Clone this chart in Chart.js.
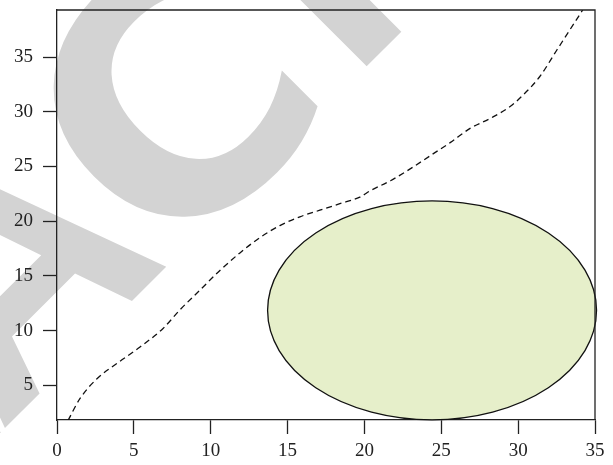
<!DOCTYPE html>
<html>
<head>
<meta charset="utf-8">
<script src="https://cdn.jsdelivr.net/npm/chart.js"></script>
<style>
  html, body { margin: 0; padding: 0; background: #fff; }
  #wrap { width: 613px; height: 465px; }
</style>
</head>
<body>
<div id="wrap"><canvas id="chart" width="613" height="465"></canvas></div>
<script>
// tick values
const xTicks = [0, 5, 10, 15, 20, 25, 30, 35];
const yTicks = [5, 10, 15, 20, 25, 30, 35];

// dashed curve
const curveX = [0.72, 1.5, 2.6, 3.9, 5.4, 6.9, 8.0, 9.3, 10.6, 11.9, 13.2, 14.5, 15.8, 17.1, 18.4, 19.7, 20.4, 21.7, 23.0, 24.3, 25.6, 26.9, 28.2, 29.5, 30.3, 31.4, 32.5, 34.2];
const curveY = [1.8, 3.8, 5.6, 7.0, 8.5, 10.2, 11.9, 13.7, 15.5, 17.1, 18.5, 19.6, 20.4, 21.0, 21.6, 22.2, 22.8, 23.7, 24.8, 26.0, 27.2, 28.5, 29.4, 30.5, 31.5, 33.2, 35.6, 39.3];

// ellipse in data units
const ellipseCenter = [24.4, 11.85];
const ellipseRadius = [10.7, 10.0];

const axisRange = { xMin: 0, xMax: 35, yMin: 1.83, yMax: 39.3 };

const axisColor = '#222';
const tickFont = { family: '"Liberation Serif", "DejaVu Serif", serif', size: 19 };

// grey "RETRACTED" watermark behind everything
const watermark = {
  id: 'watermark',
  beforeDraw(chart) {
    const ctx = chart.ctx;
    const face = '"Liberation Sans", Arial, sans-serif';
    ctx.save();
    ctx.fillStyle = '#d3d3d3';
    ctx.font = 'bold 340px ' + face;
    ctx.textBaseline = 'alphabetic';
    ctx.translate(145, 288);
    ctx.rotate(-Math.PI / 4);
    ctx.textAlign = 'right';
    ctx.fillText('A', 39, 0);
    const wA = ctx.measureText('A').width;
    ctx.fillText('RETR', 39 - wA + 10, 0);
    ctx.textAlign = 'center';
    ctx.fillText('T', 338, 0);
    ctx.textAlign = 'left';
    ctx.fillText('ED', 338 + ctx.measureText('T').width / 2, 0);
    // the C in the reference is more open, DejaVu's is closer
    ctx.font = 'bold 335px "DejaVu Sans", sans-serif';
    ctx.textAlign = 'center';
    ctx.fillText('C', 149, 7);
    ctx.restore();
  }
};

const ellipsePlugin = {
  id: 'ellipse',
  beforeDatasetsDraw(chart) {
    const { ctx, scales: { x, y } } = chart;
    const cx = x.getPixelForValue(ellipseCenter[0]);
    const cy = y.getPixelForValue(ellipseCenter[1]);
    const rx = Math.abs(x.getPixelForValue(ellipseCenter[0] + ellipseRadius[0]) - cx);
    const ry = Math.abs(y.getPixelForValue(ellipseCenter[1] + ellipseRadius[1]) - cy);
    ctx.save();
    ctx.beginPath();
    ctx.ellipse(cx, cy, rx, ry, 0, 0, Math.PI * 2);
    ctx.fillStyle = '#e6efca';
    ctx.fill();
    ctx.lineWidth = 1.3;
    ctx.strokeStyle = '#111';
    ctx.stroke();
    ctx.restore();
  }
};

// top and right sides of the box
const boxPlugin = {
  id: 'box',
  afterDraw(chart) {
    const { ctx, chartArea: a } = chart;
    ctx.save();
    ctx.strokeStyle = axisColor;
    ctx.lineWidth = 1.3;
    ctx.beginPath();
    ctx.moveTo(a.left, a.top);
    ctx.lineTo(a.right, a.top);
    ctx.lineTo(a.right, a.bottom);
    ctx.stroke();
    ctx.restore();
  }
};

new Chart(document.getElementById('chart'), {
  type: 'line',
  data: {
    datasets: [{
      data: curveX.map((v, i) => ({ x: v, y: curveY[i] })),
      borderColor: '#111',
      borderWidth: 1.3,
      borderDash: [6, 4],
      pointRadius: 0,
      cubicInterpolationMode: 'monotone',
      fill: false
    }]
  },
  options: {
    responsive: false,
    animation: false,
    devicePixelRatio: 1,
    layout: { padding: { top: 10, right: 18, left: 0, bottom: 0 } },
    plugins: { legend: { display: false }, tooltip: { enabled: false } },
    scales: {
      x: {
        type: 'linear',
        min: axisRange.xMin,
        max: axisRange.xMax,
        afterBuildTicks: s => { s.ticks = xTicks.map(v => ({ value: v })); },
        afterFit: s => { s.height = 45; s.paddingLeft = 0; s.paddingRight = 0; },
        grid: { drawOnChartArea: false, tickLength: 14, tickColor: axisColor, tickWidth: 1.3 },
        border: { color: axisColor, width: 1.3 },
        ticks: { font: tickFont, color: axisColor, padding: 6, maxRotation: 0 }
      },
      y: {
        type: 'linear',
        min: axisRange.yMin,
        max: axisRange.yMax,
        afterBuildTicks: s => { s.ticks = yTicks.map(v => ({ value: v })); },
        afterFit: s => { s.width = 57; s.paddingTop = 0; s.paddingBottom = 0; },
        grid: { drawOnChartArea: false, tickLength: 14, tickColor: axisColor, tickWidth: 1.3 },
        border: { color: axisColor, width: 1.3 },
        ticks: { font: tickFont, color: axisColor, padding: 10 }
      }
    }
  },
  plugins: [watermark, ellipsePlugin, boxPlugin]
});
</script>
</body>
</html>
